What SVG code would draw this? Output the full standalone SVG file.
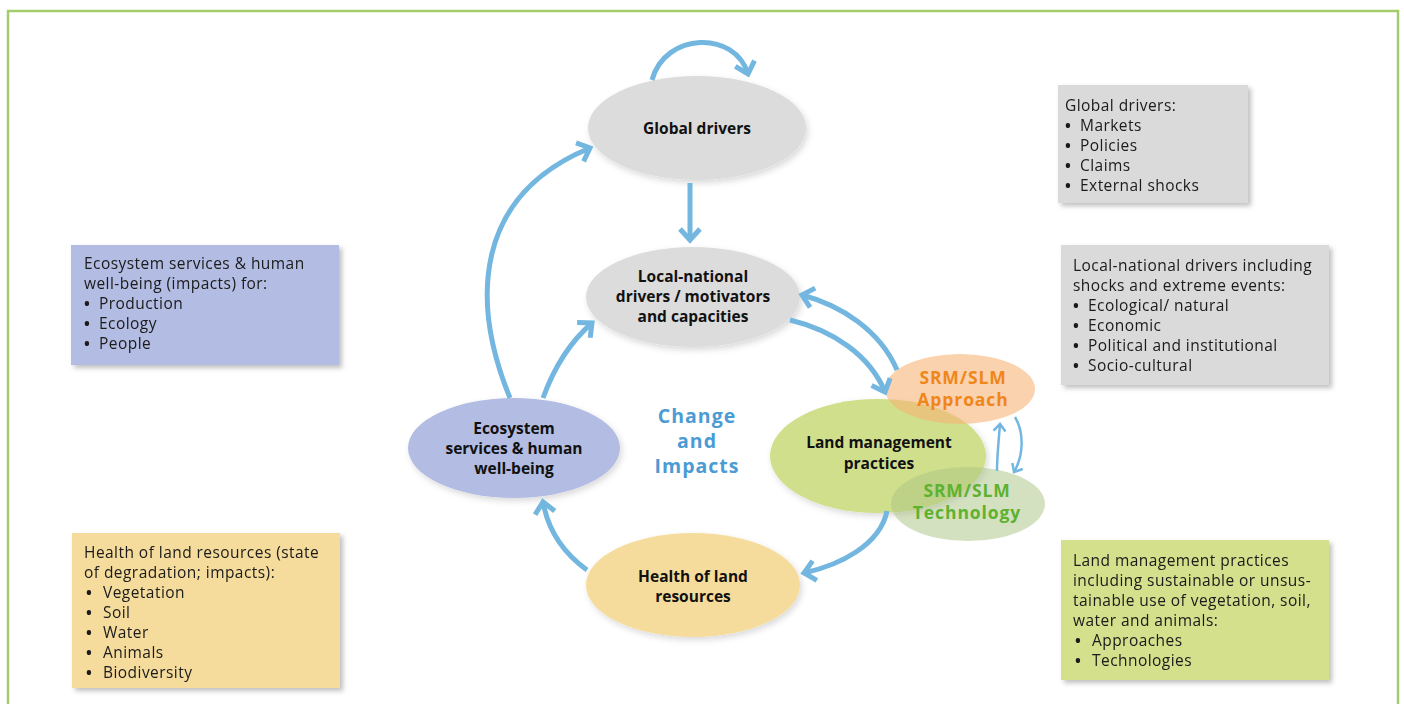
<svg xmlns="http://www.w3.org/2000/svg" width="1404" height="704" viewBox="0 0 1404 704">
<defs>
<style>
.frame{fill:#fff;stroke:#a3cd6c;stroke-width:2.5}
.box{filter:url(#sh)}
.bt{font-family:"Open Sans","Noto Sans",sans-serif;font-size:15.5px;letter-spacing:0.45px;fill:#1a1a1a}
.bu{font-weight:bold}
.nt{font-family:"Open Sans","Noto Sans",sans-serif;font-size:15.5px;font-weight:bold;fill:#111;text-anchor:middle}
.ct{font-family:"Open Sans","Noto Sans",sans-serif;font-size:19.5px;letter-spacing:1px;font-weight:bold;fill:#4b9bd5;text-anchor:middle}
.srm{font-family:"Open Sans","Noto Sans",sans-serif;font-size:17.5px;letter-spacing:0.9px;font-weight:bold;text-anchor:middle}
.arr{fill:none;stroke:#73b6df;stroke-width:5;marker-end:url(#ah)}
.arrt{fill:none;stroke:#73b6df;stroke-width:2.5;marker-end:url(#aht)}
</style>
<filter id="sh" x="-10%" y="-10%" width="125%" height="130%">
<feDropShadow dx="3" dy="3" stdDeviation="2.5" flood-color="#000" flood-opacity="0.25"/>
</filter>
<filter id="esh" x="-10%" y="-10%" width="125%" height="130%">
<feDropShadow dx="2" dy="3" stdDeviation="3" flood-color="#000" flood-opacity="0.15"/>
</filter>
<marker id="ah" markerUnits="userSpaceOnUse" viewBox="-16 -14 20 28" markerWidth="20" markerHeight="28" refX="0" refY="0" orient="auto" overflow="visible">
<path d="M-11,-10 L0,0 L-11,10" fill="none" stroke="#73b6df" stroke-width="5"/>
</marker>
<marker id="aht" markerUnits="userSpaceOnUse" viewBox="-10 -8 12 16" markerWidth="12" markerHeight="16" refX="0" refY="0" orient="auto" overflow="visible">
<path d="M-7,-6 L0,0 L-7,6" fill="none" stroke="#73b6df" stroke-width="2.5"/>
</marker>
</defs>
<rect class="frame" x="8" y="11" width="1390" height="710"/>

<g id="box-global" class="box">
<rect x="1058" y="85" width="190" height="118" fill="#dadada"/>
<text class="bt" x="1065" y="111">Global drivers:</text>
<text class="bt" y="131"><tspan class="bu" x="1065">•</tspan><tspan x="1080">Markets</tspan></text>
<text class="bt" y="151"><tspan class="bu" x="1065">•</tspan><tspan x="1080">Policies</tspan></text>
<text class="bt" y="171"><tspan class="bu" x="1065">•</tspan><tspan x="1080">Claims</tspan></text>
<text class="bt" y="191"><tspan class="bu" x="1065">•</tspan><tspan x="1080">External shocks</tspan></text>
</g>
<g id="box-local" class="box">
<rect x="1061" y="245" width="268" height="140" fill="#dadada"/>
<text class="bt" x="1073" y="271">Local-national drivers including</text>
<text class="bt" x="1073" y="291">shocks and extreme events:</text>
<text class="bt" y="311"><tspan class="bu" x="1073">•</tspan><tspan x="1088">Ecological/ natural</tspan></text>
<text class="bt" y="331"><tspan class="bu" x="1073">•</tspan><tspan x="1088">Economic</tspan></text>
<text class="bt" y="351"><tspan class="bu" x="1073">•</tspan><tspan x="1088">Political and institutional</tspan></text>
<text class="bt" y="371"><tspan class="bu" x="1073">•</tspan><tspan x="1088">Socio-cultural</tspan></text>
</g>
<g id="box-eco" class="box">
<rect x="71" y="245" width="268" height="120" fill="#b3bce2"/>
<text class="bt" x="84" y="269">Ecosystem services &amp; human</text>
<text class="bt" x="84" y="289">well-being (impacts) for:</text>
<text class="bt" y="309"><tspan class="bu" x="84">•</tspan><tspan x="99">Production</tspan></text>
<text class="bt" y="329"><tspan class="bu" x="84">•</tspan><tspan x="99">Ecology</tspan></text>
<text class="bt" y="349"><tspan class="bu" x="84">•</tspan><tspan x="99">People</tspan></text>
</g>
<g id="box-health" class="box">
<rect x="72" y="533" width="268" height="155" fill="#f6dc9c"/>
<text class="bt" x="84" y="558">Health of land resources (state</text>
<text class="bt" x="84" y="578">of degradation; impacts):</text>
<text class="bt" y="598"><tspan class="bu" x="86">•</tspan><tspan x="103">Vegetation</tspan></text>
<text class="bt" y="618"><tspan class="bu" x="86">•</tspan><tspan x="103">Soil</tspan></text>
<text class="bt" y="638"><tspan class="bu" x="86">•</tspan><tspan x="103">Water</tspan></text>
<text class="bt" y="658"><tspan class="bu" x="86">•</tspan><tspan x="103">Animals</tspan></text>
<text class="bt" y="678"><tspan class="bu" x="86">•</tspan><tspan x="103">Biodiversity</tspan></text>
</g>
<g id="box-land" class="box">
<rect x="1061" y="540" width="268" height="140" fill="#d4e08c"/>
<text class="bt" x="1073" y="566">Land management practices</text>
<text class="bt" x="1073" y="586">including sustainable or unsus-</text>
<text class="bt" x="1073" y="606">tainable use of vegetation, soil,</text>
<text class="bt" x="1073" y="626">water and animals:</text>
<text class="bt" y="646"><tspan class="bu" x="1075">•</tspan><tspan x="1092">Approaches</tspan></text>
<text class="bt" y="666"><tspan class="bu" x="1075">•</tspan><tspan x="1092">Technologies</tspan></text>
</g>

<g id="node-global">
<ellipse cx="697" cy="128" rx="109" ry="52" fill="#dcdcdc" filter="url(#esh)"/>
<text class="nt" x="697" y="134">Global drivers</text>
</g>
<g id="node-local">
<ellipse cx="693" cy="297" rx="107" ry="50" fill="#dcdcdc" filter="url(#esh)"/>
<text class="nt" x="693" y="282">Local-national</text>
<text class="nt" x="693" y="302">drivers / motivators</text>
<text class="nt" x="693" y="322">and capacities</text>
</g>
<g id="node-eco">
<ellipse cx="514" cy="448" rx="106" ry="50" fill="#b3bce2" filter="url(#esh)"/>
<text class="nt" x="514" y="434">Ecosystem</text>
<text class="nt" x="514" y="454">services &amp; human</text>
<text class="nt" x="514" y="474">well-being</text>
</g>
<g id="node-health">
<ellipse cx="693" cy="585" rx="107" ry="52" fill="#f6dc9c" filter="url(#esh)"/>
<text class="nt" x="693" y="582">Health of land</text>
<text class="nt" x="693" y="602">resources</text>
</g>
<g id="node-land">
<ellipse cx="878" cy="456" rx="108" ry="57" fill="#d0df8c" filter="url(#esh)"/>
<text class="nt" x="879" y="448">Land management</text>
<text class="nt" x="879" y="469">practices</text>
</g>
<g id="node-approach">
<ellipse cx="960" cy="389" rx="75" ry="35" fill="#f6b477" fill-opacity="0.6"/>
<text class="srm" x="963" y="384" fill="#f0861a">SRM/SLM</text>
<text class="srm" x="963" y="406" fill="#f0861a">Approach</text>
</g>
<g id="node-technology">
<ellipse cx="968" cy="504" rx="77" ry="37" fill="#a9c482" fill-opacity="0.5"/>
<text class="srm" x="967" y="497" fill="#5fb130">SRM/SLM</text>
<text class="srm" x="967" y="519" fill="#5fb130">Technology</text>
</g>
<g id="label-change">
<text class="ct" x="697" y="423">Change</text>
<text class="ct" x="697" y="448">and</text>
<text class="ct" x="697" y="473">Impacts</text>
</g>

<g id="connectors">
<path class="arr" d="M652,80 C665,32 735,30 748,74"/>
<path class="arr" d="M690,183 L690,240"/>
<path class="arr" d="M510,398 C470,300 475,195 590,148"/>
<path class="arr" d="M543,398 C555,365 570,342 592,323"/>
<path class="arr" d="M790,320 C832,330 870,355 885,392"/>
<path class="arr" d="M897,370 C880,330 840,305 802,295"/>
<path class="arr" d="M887,511 C880,545 840,565 804,573"/>
<path class="arr" d="M587,570 C562,552 548,530 543,502"/>
<path class="arrt" d="M997,471 C997,455 999,438 1000,424"/>
<path class="arrt" d="M1015,417 C1024,432 1024,455 1014,472"/>
</g>
</svg>
